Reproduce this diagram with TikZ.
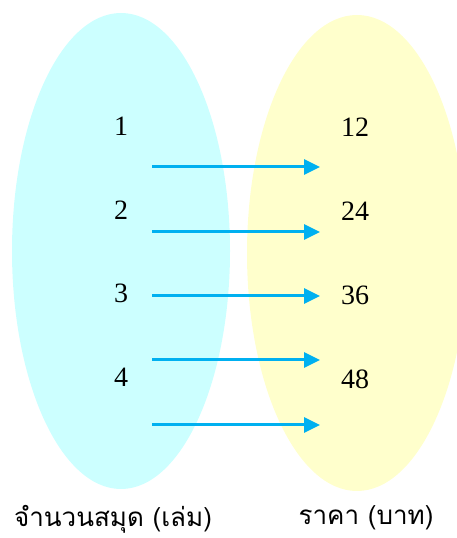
\documentclass[tikz,border=0pt]{standalone}
\usepackage{fontspec}
\setmainfont{Liberation Serif}
\newfontfamily\thaifont[Script=Thai]{Loma}
\usetikzlibrary{arrows.meta}
\definecolor{setcyan}{HTML}{CCFFFF}
\definecolor{setyellow}{HTML}{FFFFCC}
\definecolor{arrowblue}{HTML}{00B0F0}
\begin{document}
\begin{tikzpicture}[x=1pt,y=1pt,
  num/.style={font=\fontsize{28}{32}\selectfont, inner sep=0pt},
  lab/.style={font=\thaifont\fontsize{26}{30}\selectfont, inner sep=0pt},
  maparrow/.style={draw=arrowblue, line width=3pt, -{Triangle[length=16pt,width=15pt]}}]
\useasboundingbox (0,0) rectangle (456,538);
\fill[setcyan] (121,287) ellipse [x radius=109, y radius=238];
\fill[setyellow] (357,285) ellipse [x radius=110, y radius=238];
\node[num] (a1) at (121,412) {1};
\node[num] (a2) at (121,328) {2};
\node[num] (a3) at (121,245) {3};
\node[num] (a4) at (121,161) {4};
\node[num] (b1) at (355,411) {12};
\node[num] (b2) at (355,327) {24};
\node[num] (b3) at (355,243) {36};
\node[num] (b4) at (355,159) {48};
\foreach \i/\y in {1/371,2/306,3/242,4/178,5/113}{
  \coordinate (s\i) at (152,\y);
  \coordinate (e\i) at (320,\y);
  \draw[maparrow] (s\i) -- (e\i);
}
\node[lab] (la) at (113,19) {จำนวนสมุด (เล่ม)};
\node[lab] (lb) at (366,20) {ราคา (บาท)};
\end{tikzpicture}
\end{document}
